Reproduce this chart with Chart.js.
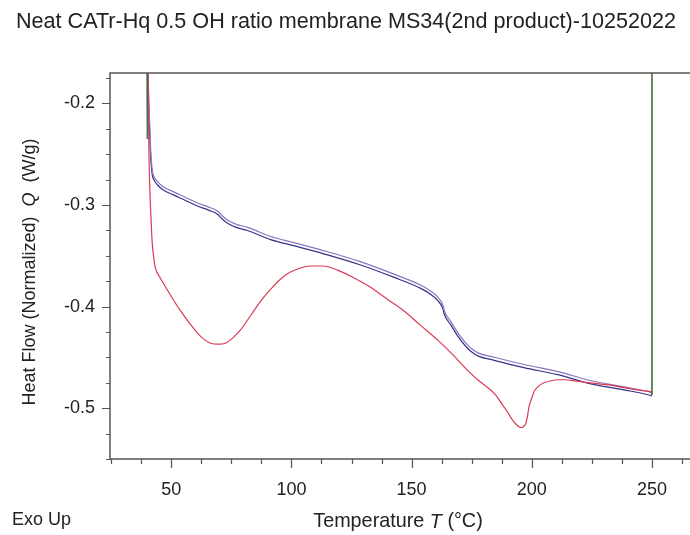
<!DOCTYPE html>
<html>
<head>
<meta charset="utf-8">
<script src="https://cdn.jsdelivr.net/npm/chart.js@4.4.0/dist/chart.umd.min.js"></script>
<style>
html, body { margin: 0; padding: 0; background: #fff; }
#wrap { position: relative; width: 690px; height: 535px; }
</style>
</head>
<body>
<div id="wrap"><canvas id="dsc" width="690" height="535"></canvas></div>
<script>
// Textos
const chartTitle = 'Neat CATr-Hq 0.5 OH ratio membrane MS34(2nd product)-10252022';
const yTitleParts = [['Heat Flow (Normalized)  ', false], ['Q', true], ['  (W/g)', false]];
const xTitleParts = [['Temperature ', false], ['T', true], [' (\u00B0C)', false]];
const exoLabel = 'Exo Up';

// Ejes
const xMin = 24.5, xMax = 265;
const yMin = -0.55, yMax = -0.17;
const xTickValues = [25, 37.5, 50, 62.5, 75, 87.5, 100, 112.5, 125, 137.5, 150, 162.5, 175, 187.5, 200, 212.5, 225, 237.5, 250, 262.5];
const xTickLabels = [50, 100, 150, 200, 250];
const yTickValues = [-0.55, -0.525, -0.5, -0.475, -0.45, -0.425, -0.4, -0.375, -0.35, -0.325, -0.3, -0.275, -0.25, -0.225, -0.2, -0.175];
const yTickLabels = [-0.5, -0.4, -0.3, -0.2];

// Curva azul (calentamiento)
const blueT = [40.0, 40.6, 41.3, 42.0, 43.0, 44.2, 46.5, 50.9, 55.5, 60.9, 65.5, 69.2, 71.3, 73.4, 77.0, 81.7, 91.3, 100.9, 115.0, 128.8, 142.5, 153.8, 158.0, 160.9, 163.0, 163.5, 166.3, 169.2, 172.5, 174.6, 178.0, 182.9, 196.7, 210.9, 224.6, 238.3, 248.8, 250.0];
const blueQ = [-0.15, -0.202, -0.247, -0.269, -0.276, -0.280, -0.285, -0.290, -0.295, -0.301, -0.305, -0.309, -0.314, -0.318, -0.322, -0.325, -0.334, -0.340, -0.349, -0.359, -0.371, -0.382, -0.388, -0.394, -0.402, -0.407, -0.418, -0.429, -0.439, -0.444, -0.449, -0.452, -0.460, -0.467, -0.476, -0.482, -0.487, -0.488];
// Curva violeta
const purpleT = [40.1, 40.7, 41.4, 42.1, 43.1, 44.3, 46.6, 51.0, 55.6, 61.0, 65.6, 69.3, 71.4, 73.5, 77.1, 81.8, 91.4, 101.0, 115.1, 128.9, 142.6, 153.9, 158.1, 161.0, 163.1, 163.6, 166.4, 169.3, 172.6, 174.7, 178.1, 183.0, 196.8, 211.0, 224.7, 238.4, 248.9, 250.0];
const purpleQ = [-0.15, -0.199, -0.244, -0.266, -0.273, -0.277, -0.282, -0.287, -0.292, -0.298, -0.302, -0.306, -0.311, -0.315, -0.319, -0.322, -0.331, -0.337, -0.346, -0.356, -0.368, -0.379, -0.385, -0.391, -0.399, -0.404, -0.415, -0.426, -0.436, -0.441, -0.446, -0.449, -0.457, -0.464, -0.473, -0.479, -0.484, -0.485];
// Curva roja
const redT = [40.2, 40.7, 41.1, 41.6, 42.0, 42.7, 43.4, 45.0, 46.7, 50.0, 53.8, 57.5, 60.9, 63.5, 66.3, 69.6, 72.5, 75.5, 78.8, 83.5, 88.4, 91.3, 95.4, 99.6, 103.8, 107.9, 113.0, 119.2, 125.5, 132.9, 139.5, 146.7, 153.5, 160.9, 167.0, 173.4, 178.5, 182.9, 185.0, 187.9, 190.0, 192.1, 194.0, 195.4, 196.6, 197.5, 198.2, 198.8, 200.0, 200.9, 202.5, 205.0, 208.0, 210.9, 214.0, 217.5, 224.0, 231.7, 241.3, 250.0];
const redQ = [-0.15, -0.25, -0.286, -0.315, -0.335, -0.352, -0.362, -0.370, -0.377, -0.390, -0.404, -0.416, -0.426, -0.432, -0.436, -0.437, -0.436, -0.431, -0.423, -0.407, -0.391, -0.383, -0.373, -0.366, -0.362, -0.360, -0.360, -0.364, -0.371, -0.381, -0.392, -0.404, -0.418, -0.433, -0.447, -0.463, -0.474, -0.482, -0.487, -0.497, -0.504, -0.512, -0.517, -0.519, -0.518, -0.515, -0.508, -0.499, -0.490, -0.484, -0.479, -0.475, -0.473, -0.472, -0.472, -0.473, -0.475, -0.477, -0.481, -0.484];
// Segmentos verdes (inicio y fin)
const greenStartT = [39.9, 40.0];
const greenStartQ = [-0.15, -0.235];
const greenEndT = [250.0, 250.0];
const greenEndQ = [-0.487, -0.15];

const FONT = '"Liberation Sans", Arial, sans-serif';

function pts(ts, qs) {
    return ts.map((t, i) => ({ x: t, y: qs[i] }));
}

function isIn(list, v) {
    return list.some(l => Math.abs(l - v) < 1e-6);
}

// Texto con partes en cursiva
function drawParts(ctx, parts, size) {
    const widths = parts.map(p => {
        ctx.font = (p[1] ? 'italic ' : '') + size + 'px ' + FONT;
        return ctx.measureText(p[0]).width;
    });
    let x = -widths.reduce((a, b) => a + b, 0) / 2;
    parts.forEach((p, i) => {
        ctx.font = (p[1] ? 'italic ' : '') + size + 'px ' + FONT;
        ctx.fillText(p[0], x, 0);
        x += widths[i];
    });
}

// Marco, marcas y títulos
const framePlugin = {
    id: 'framePlugin',
    afterDraw(chart) {
        const { ctx, chartArea: a, scales: { x, y } } = chart;
        ctx.save();
        ctx.strokeStyle = '#555';
        ctx.lineWidth = 1.5;
        ctx.beginPath();
        ctx.moveTo(690, a.top); ctx.lineTo(a.left, a.top);
        ctx.lineTo(a.left, a.bottom); ctx.lineTo(690, a.bottom);
        ctx.stroke();

        ctx.lineWidth = 1.2;
        ctx.beginPath();
        xTickValues.forEach(v => {
            const px = Math.round(x.getPixelForValue(v)) + 0.5;
            const len = isIn(xTickLabels, v) ? 9 : 5;
            ctx.moveTo(px, a.bottom); ctx.lineTo(px, a.bottom + len);
        });
        yTickValues.forEach(v => {
            const py = Math.round(y.getPixelForValue(v)) + 0.5;
            const len = isIn(yTickLabels, v) ? 8 : 4;
            ctx.moveTo(a.left, py); ctx.lineTo(a.left - len, py);
        });
        ctx.stroke();

        ctx.fillStyle = '#222';
        ctx.textBaseline = 'middle';
        ctx.textAlign = 'center';
        ctx.font = '21.6px ' + FONT;
        ctx.fillText(chartTitle, 346, 22);

        ctx.textAlign = 'left';
        ctx.save();
        ctx.translate(30, 272);
        ctx.rotate(-Math.PI / 2);
        drawParts(ctx, yTitleParts, 18);
        ctx.restore();

        ctx.save();
        ctx.translate(398, 522);
        drawParts(ctx, xTitleParts, 19.8);
        ctx.restore();

        ctx.font = '18px ' + FONT;
        ctx.fillText(exoLabel, 12, 520);
        ctx.restore();
    }
};

new Chart(document.getElementById('dsc'), {
    type: 'line',
    data: {
        datasets: [
            { data: pts(greenStartT, greenStartQ), borderColor: '#3d5f33', borderWidth: 1.3, tension: 0 },
            { data: pts(greenEndT, greenEndQ), borderColor: '#3d5f33', borderWidth: 1.5, tension: 0 },
            { data: pts(redT, redQ), borderColor: '#dc3a55', borderWidth: 1.2, cubicInterpolationMode: 'monotone' },
            { data: pts(purpleT, purpleQ), borderColor: '#8b74bf', borderWidth: 1.2, cubicInterpolationMode: 'monotone' },
            { data: pts(blueT, blueQ), borderColor: '#34348a', borderWidth: 1.2, cubicInterpolationMode: 'monotone' }
        ]
    },
    options: {
        responsive: false,
        animation: false,
        devicePixelRatio: 1,
        layout: { padding: { top: 73, left: 0, right: 2, bottom: 0 } },
        elements: { point: { radius: 0 } },
        plugins: { legend: { display: false }, tooltip: { enabled: false }, title: { display: false } },
        scales: {
            x: {
                type: 'linear',
                min: xMin, max: xMax,
                border: { display: false },
                grid: { display: false, drawTicks: false },
                afterBuildTicks: s => { s.ticks = xTickValues.map(v => ({ value: v })); },
                afterFit: s => { s.height = 76; s.paddingLeft = 0; s.paddingRight = 0; },
                ticks: {
                    autoSkip: false, maxRotation: 0, padding: 20,
                    color: '#222', font: { family: FONT, size: 18 },
                    callback: v => isIn(xTickLabels, v) ? String(v) : ''
                }
            },
            y: {
                type: 'linear',
                min: yMin, max: yMax,
                border: { display: false },
                grid: { display: false, drawTicks: false },
                afterBuildTicks: s => { s.ticks = yTickValues.map(v => ({ value: v })); },
                afterFit: s => { s.width = 110; s.paddingTop = 0; s.paddingBottom = 0; },
                ticks: {
                    autoSkip: false, padding: 15,
                    color: '#222', font: { family: FONT, size: 18 },
                    callback: v => isIn(yTickLabels, v) ? v.toFixed(1) : ''
                }
            }
        }
    },
    plugins: [framePlugin]
});
</script>
</body>
</html>
